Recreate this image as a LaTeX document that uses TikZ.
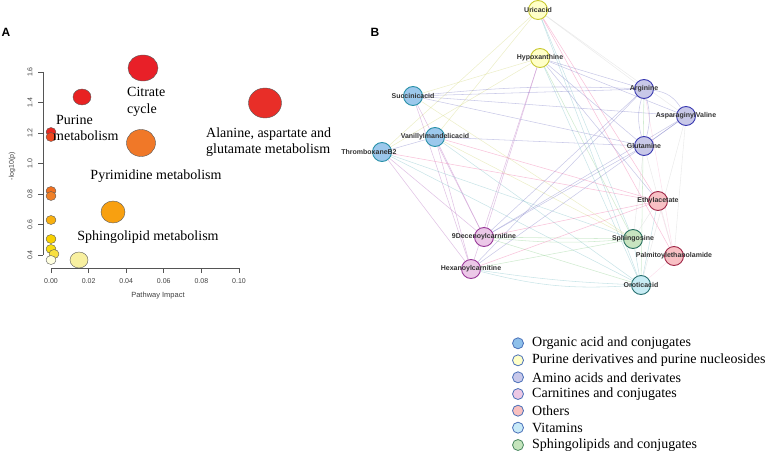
\documentclass[tikz,border=0pt]{standalone}
\usepackage{fontspec}
\setmainfont{Liberation Serif}
\setsansfont{Liberation Sans}
\usetikzlibrary{backgrounds,shapes.geometric}
\definecolor{orgF}{HTML}{9CC8EC}\definecolor{orgD}{HTML}{2890A8}
\definecolor{purF}{HTML}{FFFFC8}\definecolor{purD}{HTML}{C8C830}
\definecolor{amiF}{HTML}{C8C8E8}\definecolor{amiD}{HTML}{3838B0}
\definecolor{carF}{HTML}{ECC8E8}\definecolor{carD}{HTML}{983898}
\definecolor{othF}{HTML}{F8C0C4}\definecolor{othD}{HTML}{A02848}
\definecolor{vitF}{HTML}{C8ECF4}\definecolor{vitD}{HTML}{287070}
\definecolor{sphF}{HTML}{C8E4C0}\definecolor{sphD}{HTML}{287060}
\definecolor{legD}{HTML}{4A70B8}\definecolor{legG}{HTML}{4A8860}
\definecolor{cey}{HTML}{D4D880}\definecolor{cep}{HTML}{F070A8}
\definecolor{ceu}{HTML}{B870C0}\definecolor{ceb}{HTML}{8080C8}
\definecolor{ceg}{HTML}{90D090}\definecolor{cet}{HTML}{80C0C8}
\definecolor{axc}{HTML}{555555}
\begin{document}
\begin{tikzpicture}[x=1pt,y=-1pt,
  every node/.style={inner sep=0pt},
  axis/.style={draw=axc, line width=0.7pt},
  tick/.style={font=\sffamily\fontsize{7}{8}\selectfont, text=black!75},
  ptxt/.style={font=\fontsize{14}{16.6}\selectfont, align=left},
  bub/.style={ellipse, draw=black!65, line width=0.4pt},
  net/.style={circle, minimum size=19pt, line width=0.9pt},
  nl/.style={font=\sffamily\bfseries\fontsize{7}{8}\selectfont, text=black!80},
  org/.style={net, fill=orgF, draw=orgD},
  pur/.style={net, fill=purF, draw=purD},
  ami/.style={net, fill=amiF, draw=amiD},
  car/.style={net, fill=carF, draw=carD},
  oth/.style={net, fill=othF, draw=othD},
  vit/.style={net, fill=vitF, draw=vitD},
  sph/.style={net, fill=sphF, draw=sphD},
  edge/.style={line width=0.55pt, draw opacity=0.42},
  ey/.style={edge, draw=cey}, ep/.style={edge, draw=cep},
  eu/.style={edge, draw=ceu}, eb/.style={edge, draw=ceb},
  eg/.style={edge, draw=ceg}, et/.style={edge, draw=cet},
  ef/.style={edge, draw=black!15, draw opacity=0.5},
  leg/.style={circle, minimum size=11pt, line width=0.8pt, draw=legD},
  ltxt/.style={font=\fontsize{14}{16}\selectfont, anchor=west}
]
\useasboundingbox (0,0) rectangle (767,454);

% ---------------- Panel A ----------------
\node[font=\sffamily\bfseries\fontsize{12}{14}\selectfont] (labA) at (6,32) {A};
\node[font=\sffamily\bfseries\fontsize{12}{14}\selectfont] (labB) at (375,32) {B};

\coordinate (xa0) at (51,268); \coordinate (xa1) at (239,268);
\coordinate (ya0) at (43,72); \coordinate (ya1) at (43,255);
\draw[axis] (xa0) -- (xa1);
\draw[axis] (ya0) -- (ya1);
\foreach \i/\t in {0/0.00,1/0.02,2/0.04,3/0.06,4/0.08,5/0.10}{
  \draw[axis] (51+37.6*\i,268) -- (51+37.6*\i,273);
  \node[tick] (xt\i) at (51+37.6*\i,281) {\t};
}
\foreach \i/\t in {0/1.6,1/1.4,2/1.2,3/1.0,4/0.8,5/0.6,6/0.4}{
  \draw[axis] (43,72+30.5*\i) -- (38,72+30.5*\i);
  \node[tick, rotate=90] (yt\i) at (30,72+30.5*\i) {\t};
}
\node[tick, font=\sffamily\fontsize{7.5}{9}\selectfont] (xlab) at (158,296) {Pathway Impact};
\node[tick, rotate=90] (ylab) at (12,166) {-log10(p)};

% bubbles
\node[bub, fill={rgb,255:red,232;green,32;blue,40}, minimum width=30, minimum height=26] (b1) at (143,68) {};
\node[bub, fill={rgb,255:red,232;green,34;blue,34}, minimum width=18, minimum height=16] (b2) at (82,97) {};
\node[bub, fill={rgb,255:red,232;green,46;blue,40}, minimum width=33, minimum height=30] (b3) at (265,103) {};
\node[bub, fill={rgb,255:red,240;green,120;blue,40}, minimum width=29, minimum height=27] (b4) at (141,143) {};
\node[bub, fill={rgb,255:red,248;green,160;blue,16}, minimum width=24, minimum height=22] (b5) at (113,212) {};
\node[bub, fill={rgb,255:red,248;green,240;blue,160}, minimum width=18, minimum height=16] (b6) at (79,260) {};
\node[bub, fill={rgb,255:red,232;green,40;blue,32}, minimum width=10, minimum height=9] (s1) at (51,132) {};
\node[bub, fill={rgb,255:red,238;green,72;blue,32}, minimum width=10, minimum height=9] (s2) at (51,137) {};
\node[bub, fill={rgb,255:red,240;green,112;blue,32}, minimum width=10, minimum height=9] (s3) at (51,191) {};
\node[bub, fill={rgb,255:red,240;green,128;blue,40}, minimum width=10, minimum height=9] (s4) at (51,196) {};
\node[bub, fill={rgb,255:red,248;green,176;blue,16}, minimum width=10, minimum height=9] (s5) at (51,220) {};
\node[bub, fill={rgb,255:red,248;green,208;blue,0}, minimum width=10, minimum height=9] (s6) at (51,239) {};
\node[bub, fill={rgb,255:red,248;green,220;blue,16}, minimum width=10, minimum height=9] (s7) at (51,249) {};
\node[bub, fill={rgb,255:red,248;green,224;blue,64}, minimum width=10, minimum height=9] (s8) at (54,254) {};
\node[bub, fill={rgb,255:red,255;green,255;blue,224}, minimum width=10, minimum height=9] (s9) at (51,260) {};

\node[ptxt, anchor=west] (tcit) at (127,102) {Citrate\\cycle};
\node[ptxt, anchor=west] (tpur) at (53,128) {\hspace{3pt}Purine\\metabolism};
\node[ptxt, anchor=west] (tala) at (206,142) {Alanine, aspartate and\\glutamate metabolism};
\node[ptxt] (tpyr) at (156,176) {Pyrimidine metabolism};
\node[ptxt] (tsph) at (148,237) {Sphingolipid metabolism};

% ---------------- Panel B ----------------
\node[pur, label={[nl]center:Uricacid}] (uri) at (538,10) {};
\node[pur, label={[nl]center:Hypoxanthine}] (hyp) at (540,58) {};
\node[org, label={[nl]center:Succinicacid}] (suc) at (413,96) {};
\node[org, label={[nl]center:Vanillylmandelicacid}] (van) at (435,137) {};
\node[org, label={[nl, xshift=-13pt]center:ThromboxaneB2}] (thr) at (382,152) {};
\node[ami, label={[nl]center:Arginine}] (arg) at (644,89) {};
\node[ami, label={[nl]center:AsparaginylValine}] (asv) at (686,116) {};
\node[ami, label={[nl]center:Glutamine}] (glu) at (644,146) {};
\node[oth, label={[nl]center:Ethylacetate}] (eth) at (658,201) {};
\node[car, label={[nl]center:9Decenoylcarnitine}] (dec) at (484,237) {};
\node[sph, label={[nl]center:Sphingosine}] (sph) at (633,239) {};
\node[oth, label={[nl]center:Palmitoylethanolamide}] (pal) at (674,256) {};
\node[car, label={[nl]center:Hexanoylcarnitine}] (hex) at (471,269) {};
\node[vit, label={[nl]center:Oroticacid}] (oro) at (641,285) {};

\begin{scope}[on background layer]
% Uricacid
\draw[ey] (uri) -- (thr);
\draw[ey] (uri) -- (van);
\draw[ep] (uri) -- (eth);
\draw[ep] (uri) -- (pal);
\draw[et] (uri) -- (oro);
\draw[et] (uri) -- (sph);
\draw[ef] (uri) -- (arg);
\draw[ef] (uri) -- (asv);
% Hypoxanthine
\draw[ey] (hyp) -- (suc);
\draw[ey] (hyp) -- (thr);
\draw[eu] (hyp) -- (dec);
\draw[eu] (hyp) -- (hex);
\draw[eb] (hyp) -- (glu);
\draw[eb] (hyp) -- (arg);
\draw[eb] (hyp) -- (asv);
\draw[eg] (hyp) -- (sph);
\draw[et] (hyp) -- (oro);
\draw[eb] (hyp) -- (eth);
% Succinicacid
\draw[eb] (suc) -- (arg);
\draw[eb] (suc) to[bend left=4] (arg);
\draw[eb] (suc) -- (asv);
\draw[eb] (suc) -- (glu);
\draw[eu] (suc) -- (dec);
\draw[eu] (suc) -- (hex);
\draw[ey] (suc) -- (sph);
% Vanillylmandelicacid
\draw[eu] (van) -- (dec);
\draw[eu] (van) -- (hex);
\draw[ep] (van) -- (eth);
\draw[eb] (van) -- (glu);
\draw[et] (van) -- (oro);
\draw[eb] (van) -- (thr);
\draw[ey] (van) -- (sph);
% ThromboxaneB2
\draw[ep] (thr) -- (eth);
\draw[eu] (thr) -- (hex);
\draw[eu] (thr) -- (dec);
\draw[et] (thr) -- (oro);
\draw[et] (thr) -- (sph);
% amino acids
\draw[eb] (arg) to[bend left=25] (asv);
\draw[eb] (arg) to[bend left=15] (glu);
\draw[eb] (arg) to[bend right=15] (glu);
\draw[eb] (asv) -- (glu);
\draw[eb] (arg) -- (dec);
\draw[eb] (glu) -- (dec);
\draw[eb] (asv) -- (dec);
\draw[eb] (arg) -- (hex);
\draw[eb] (asv) -- (hex);
\draw[eg] (arg) -- (oro);
\draw[ef] (glu) -- (sph);
\draw[ef] (asv) -- (oro);
\draw[ef] (asv) -- (pal);
\draw[ef] (glu) -- (pal);
% carnitines
\draw[eg] (dec) -- (sph);
\draw[eg] (dec) to[bend right=5] (sph);
\draw[ep] (dec) -- (eth);
\draw[eg] (dec) -- (oro);
\draw[ep] (hex) -- (eth);
\draw[et] (hex) to[bend right=3] (oro);
\draw[et] (hex) to[bend right=9] (oro);
\draw[eg] (hex) -- (sph);
% others
\draw[et] (eth) -- (oro);
\draw[ef] (eth) -- (sph);
\draw[ep, draw opacity=0.2] (eth) -- (pal);
\draw[ep, draw opacity=0.2] (pal) -- (oro);
\draw[ep, draw opacity=0.2] (pal) -- (arg);
\draw[et] (sph) -- (oro);
\end{scope}

% ---------------- Legend ----------------
\node[leg, fill={rgb,255:red,142;green,192;blue,234}] (l1) at (518,343.3) {};
\node[leg, fill={rgb,255:red,255;green,255;blue,200}] (l2) at (518,360.3) {};
\node[leg, fill={rgb,255:red,200;green,200;blue,234}] (l3) at (518,377.3) {};
\node[leg, fill={rgb,255:red,236;green,200;blue,228}] (l4) at (518,394.0) {};
\node[leg, fill={rgb,255:red,248;green,192;blue,192}] (l5) at (518,410.7) {};
\node[leg, fill={rgb,255:red,200;green,234;blue,248}] (l6) at (518,427.7) {};
\node[leg, draw=legG, fill={rgb,255:red,196;green,228;blue,188}] (l7) at (518,445.0) {};
\node[ltxt] (t1) at (532,343.3) {Organic acid and conjugates};
\node[ltxt] (t2) at (532,360.3) {Purine derivatives and purine nucleosides};
\node[ltxt] (t3) at (532,377.3) {Amino acids and derivates};
\node[ltxt] (t4) at (532,394.0) {Carnitines and conjugates};
\node[ltxt] (t5) at (532,410.7) {Others};
\node[ltxt] (t6) at (532,427.7) {Vitamins};
\node[ltxt] (t7) at (532,445.0) {Sphingolipids and conjugates};
\end{tikzpicture}
\end{document}
